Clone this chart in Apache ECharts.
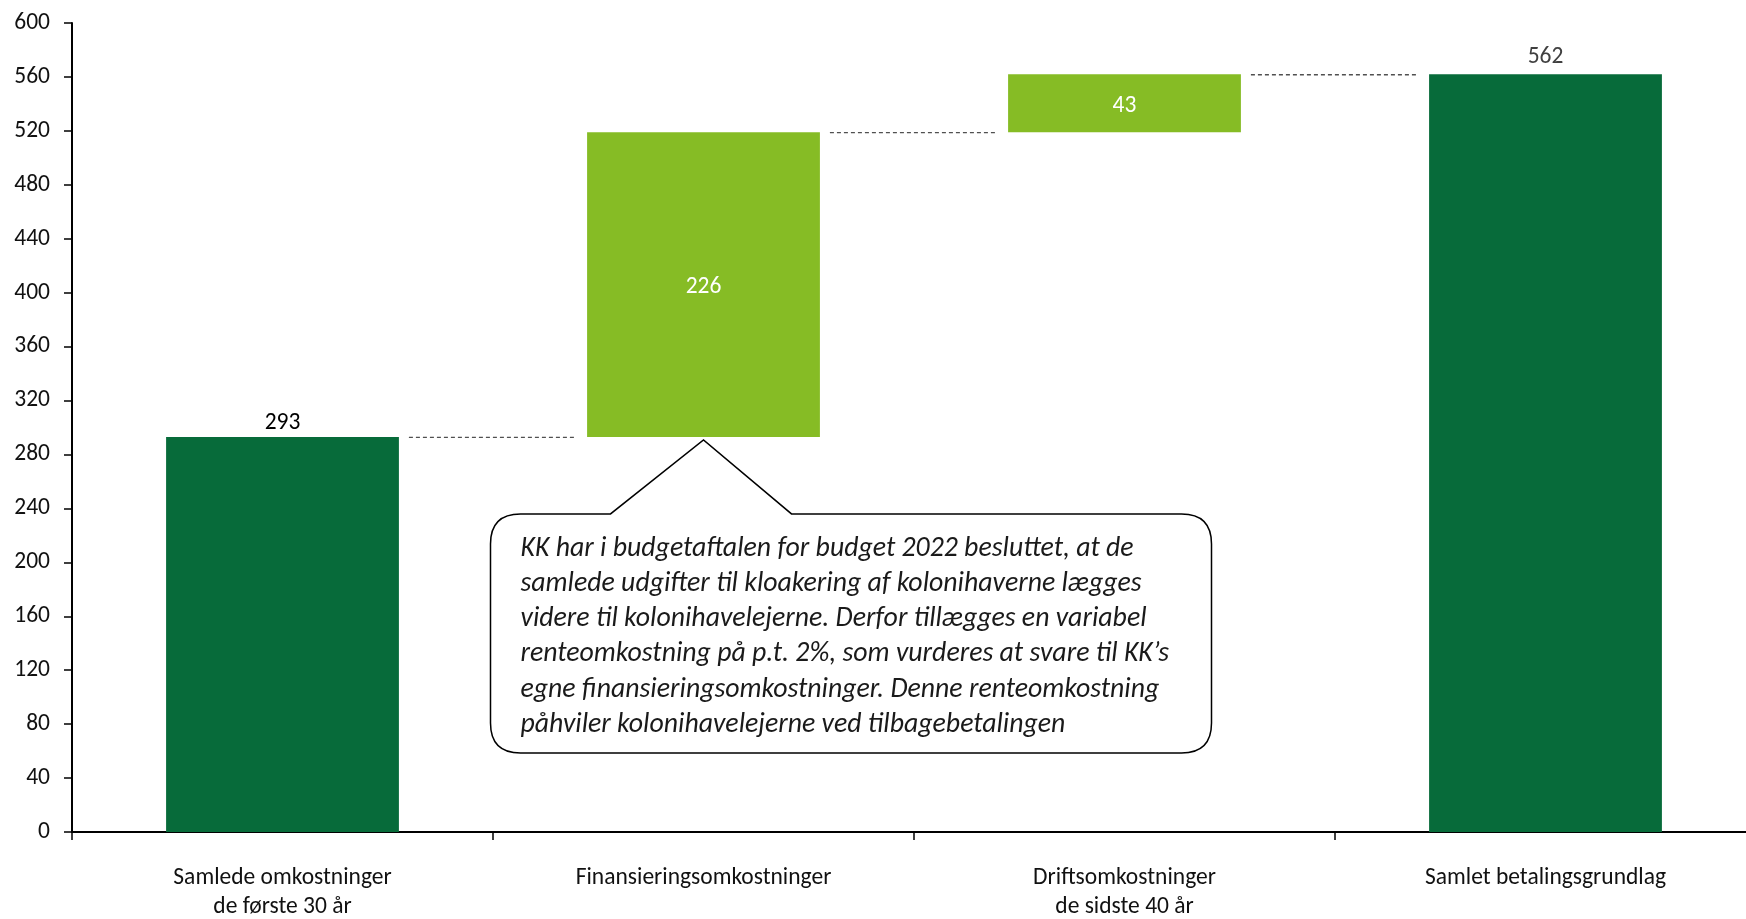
<!DOCTYPE html>
<html>
<head>
<meta charset="utf-8">
<script src="https://cdn.jsdelivr.net/npm/echarts@6/dist/echarts.min.js"></script>
<style>
html,body{margin:0;padding:0;background:#fff;}
#chart{width:1746px;height:919px;}
</style>
</head>
<body>
<div id="chart"></div>
<script>
// ---- data ----
const categories = ['Samlede omkostninger\nde første 30 år', 'Finansieringsomkostninger', 'Driftsomkostninger\nde sidste 40 år', 'Samlet betalingsgrundlag'];
const values = [293, 226, 43, 562];
const isTotal = [true, false, false, true];
const yMin = 0, yMax = 600, yInterval = 40;
const calloutLines = [
  'KK har i budgetaftalen for budget 2022 besluttet, at de',
  'samlede udgifter til kloakering af kolonihaverne lægges',
  'videre til kolonihavelejerne. Derfor tillægges en variabel',
  'renteomkostning på p.t. 2%, som vurderes at svare til KK’s',
  'egne finansieringsomkostninger. Denne renteomkostning',
  'påhviler kolonihavelejerne ved tilbagebetalingen'
];
const calloutCategory = 1;

// ---- derived ----
const bases = [];
const tops = [];
let run = 0;
values.forEach((v, i) => {
  if (isTotal[i]) { bases.push(0); run = v; }
  else { bases.push(run); run += v; }
  tops.push(run);
});

const DARK = '#076B3A', LIGHT = '#86BC25';
const FONT = 'Carlito, Calibri, Lato, sans-serif';
const BAR_FRAC = 0.553;

const chart = echarts.init(document.getElementById('chart'), null, {renderer: 'canvas'});

const option = {
  animation: false,
  backgroundColor: '#fff',
  grid: {left: 72, right: -10, top: 23, bottom: 87, containLabel: false, outerBoundsMode: 'none'},
  xAxis: {
    type: 'category',
    data: categories,
    axisLine: {lineStyle: {color: '#000', width: 2}},
    axisTick: {show: true, length: 8, lineStyle: {color: '#000', width: 1.5}},
    axisLabel: {color: '#111', fontFamily: FONT, fontSize: 23.5, lineHeight: 29, margin: 32, interval: 0}
  },
  yAxis: {
    type: 'value', min: yMin, max: yMax, interval: yInterval,
    splitLine: {show: false},
    axisLine: {show: true, lineStyle: {color: '#000', width: 2}},
    axisTick: {show: true, length: 8, lineStyle: {color: '#000', width: 1.5}},
    axisLabel: {color: '#111', fontFamily: FONT, fontSize: 23.5, margin: 22}
  },
  series: [
    {
      type: 'bar', stack: 'w', barWidth: (BAR_FRAC * 100) + '%',
      data: bases, itemStyle: {color: 'transparent'}, silent: true,
      emphasis: {disabled: true}
    },
    {
      type: 'bar', stack: 'w', barWidth: (BAR_FRAC * 100) + '%',
      emphasis: {disabled: true},
      data: values.map((v, i) => ({
        value: v,
        itemStyle: {color: isTotal[i] ? DARK : LIGHT},
        label: isTotal[i]
          ? {show: true, position: 'top', distance: i === 0 ? 2 : 5, color: i === 0 ? '#000' : '#404040', fontFamily: FONT, fontSize: 23.5}
          : {show: true, position: 'inside', offset: [0, 3], color: '#fff', fontFamily: FONT, fontSize: 23.5}
      }))
    },
    {
      type: 'custom',
      silent: true,
      data: tops.slice(0, tops.length - 1).map((t, i) => [i, t]),
      renderItem: function (params, api) {
        const i = api.value(0), lvl = api.value(1);
        const p1 = api.coord([i, lvl]);
        const p2 = api.coord([i + 1, lvl]);
        const half = api.size([1, 0])[0] * BAR_FRAC / 2;
        return {
          type: 'line',
          shape: {x1: p1[0] + half + 10, y1: p1[1] + 0.5, x2: p2[0] - half - 13, y2: p1[1] + 0.5},
          style: {stroke: '#505050', lineWidth: 1.3, lineDash: [4, 3]}
        };
      },
      z: 3
    },
    {
      type: 'custom',
      silent: true,
      data: [[calloutCategory, bases[calloutCategory]]],
      renderItem: function (params, api) {
        const tip = api.coord([api.value(0), api.value(1)]);
        const tx = tip[0], ty = tip[1] + 3;
        const L = tx - 213, R = tx + 508, T = ty + 74, B = ty + 313, r = 30;
        const bl = tx - 93, br = tx + 88;
        const d = [
          'M', L + r, T, 'L', bl, T, 'L', tx, ty, 'L', br, T, 'L', R - r, T,
          'Q', R, T, R, T + r, 'L', R, B - r, 'Q', R, B, R - r, B,
          'L', L + r, B, 'Q', L, B, L, B - r, 'L', L, T + r, 'Q', L, T, L + r, T, 'Z'
        ].join(' ');
        return {
          type: 'group',
          children: [
            {type: 'path', shape: {pathData: d}, style: {fill: '#fff', stroke: '#000', lineWidth: 1.5}},
            {type: 'text', style: {
              x: L + 30, y: T + 17, text: calloutLines.join('\n'),
              font: 'italic 27.8px ' + FONT, lineHeight: 35.3, fill: '#1a1a1a',
              verticalAlign: 'top', align: 'left'
            }}
          ]
        };
      },
      z: 5
    }
  ]
};
chart.setOption(option);
</script>
</body>
</html>
